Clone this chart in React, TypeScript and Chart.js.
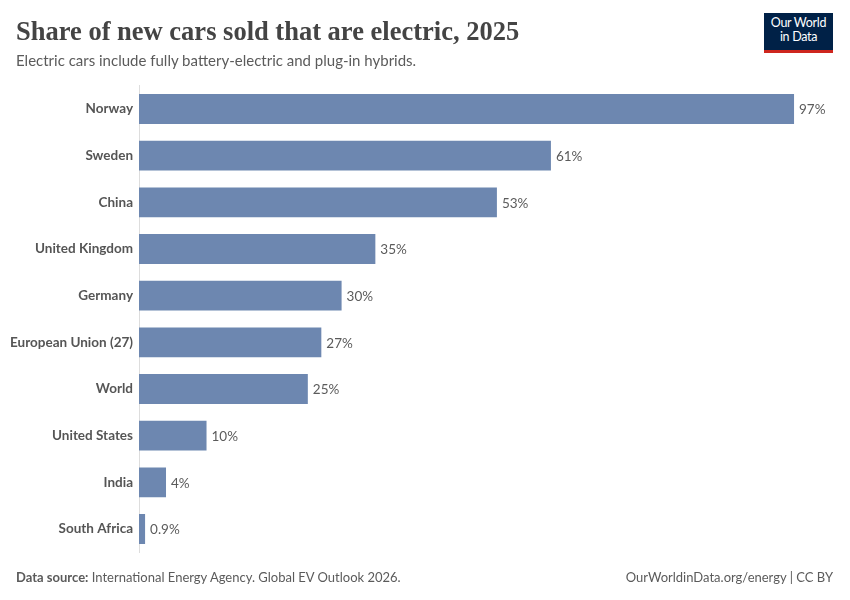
import React, { useEffect, useRef } from "react";
import { Chart, registerables } from "chart.js";

Chart.register(...registerables);

const categories = [
  "Norway",
  "Sweden",
  "China",
  "United Kingdom",
  "Germany",
  "European Union (27)",
  "World",
  "United States",
  "India",
  "South Africa",
];
const shares = [97, 61, 53, 35, 30, 27, 25, 10, 4, 0.9];
const valueLabels = shares.map((v) => `${v}%`);

const BAR_COLOR = "#6D87B0";
const TEXT_GREY = "#5b5b5b";

const valueLabelPlugin = {
  id: "valueLabels",
  afterDatasetsDraw(chart: any) {
    const { ctx } = chart;
    const meta = chart.getDatasetMeta(0);
    ctx.save();
    ctx.font = "13.5px Lato";
    ctx.fillStyle = TEXT_GREY;
    ctx.textAlign = "left";
    ctx.textBaseline = "middle";
    meta.data.forEach((el: any, i: number) => {
      ctx.fillText(valueLabels[i], el.x + 5, el.y + 1);
    });
    ctx.restore();
  },
};

export default function App() {
  const ref = useRef<HTMLCanvasElement | null>(null);
  useEffect(() => {
    if (!ref.current) return;
    const chart = new Chart(ref.current, {
      type: "bar",
      data: {
        labels: categories,
        datasets: [
          {
            data: shares,
            backgroundColor: BAR_COLOR,
            borderWidth: 0,
            barPercentage: 0.64,
            categoryPercentage: 1,
          },
        ],
      },
      options: {
        indexAxis: "y",
        animation: false,
        responsive: false,
        devicePixelRatio: 1,
        layout: { padding: { top: 85.7, bottom: 47.7, left: 0, right: 35.7 } },
        plugins: { legend: { display: false }, tooltip: { enabled: false } },
        scales: {
          x: { display: false, min: 0, max: 100 },
          y: {
            afterFit(scale: any) {
              scale.width = 139;
            },
            grid: { display: false, drawTicks: false },
            border: { display: true, color: "#dddddd", width: 1 },
            ticks: {
              padding: 6,
              color: "#555555",
              font: { family: "Lato", size: 13.5, weight: "bold" },
            },
          },
        },
      },
      plugins: [valueLabelPlugin],
    });
    return () => chart.destroy();
  }, []);

  return (
    <div
      style={{
        position: "absolute",
        left: 0,
        top: 0,
        width: 850,
        height: 600,
        background: "#fff",
        overflow: "hidden",
        fontFamily: "Lato",
      }}
    >
      <canvas
        ref={ref}
        width={850}
        height={600}
        style={{ position: "absolute", left: 0, top: 0, width: 850, height: 600 }}
      />
      <div
        style={{
          position: "absolute",
          left: 16,
          top: 16,
          fontFamily: "'Liberation Serif', serif",
          fontSize: 26.5,
          fontWeight: "bold",
          lineHeight: "normal",
          color: "#444444",
          whiteSpace: "nowrap",
        }}
      >
        Share of new cars sold that are electric, 2025
      </div>
      <div
        style={{
          position: "absolute",
          left: 16,
          top: 51,
          fontSize: 15,
          color: TEXT_GREY,
          whiteSpace: "nowrap",
        }}
      >
        Electric cars include fully battery-electric and plug-in hybrids.
      </div>
      <div
        style={{
          position: "absolute",
          left: 764,
          top: 13,
          width: 69,
          height: 34,
          background: "#002147",
          borderBottom: "3px solid #ce261e",
          color: "#fff",
          fontSize: 12.5,
          lineHeight: "14px",
          textAlign: "center",
          paddingTop: 3,
          boxSizing: "content-box",
          letterSpacing: -0.3,
        }}
      >
        Our World
        <br />
        in Data
      </div>
      <div
        style={{
          position: "absolute",
          left: 16,
          top: 569,
          fontSize: 13,
          color: TEXT_GREY,
          whiteSpace: "nowrap",
        }}
      >
        <b>Data source:</b> International Energy Agency. Global EV Outlook 2026.
      </div>
      <div
        style={{
          position: "absolute",
          right: 17,
          top: 569,
          fontSize: 13,
          color: TEXT_GREY,
          whiteSpace: "nowrap",
        }}
      >
        OurWorldinData.org/energy | CC BY
      </div>
    </div>
  );
}
